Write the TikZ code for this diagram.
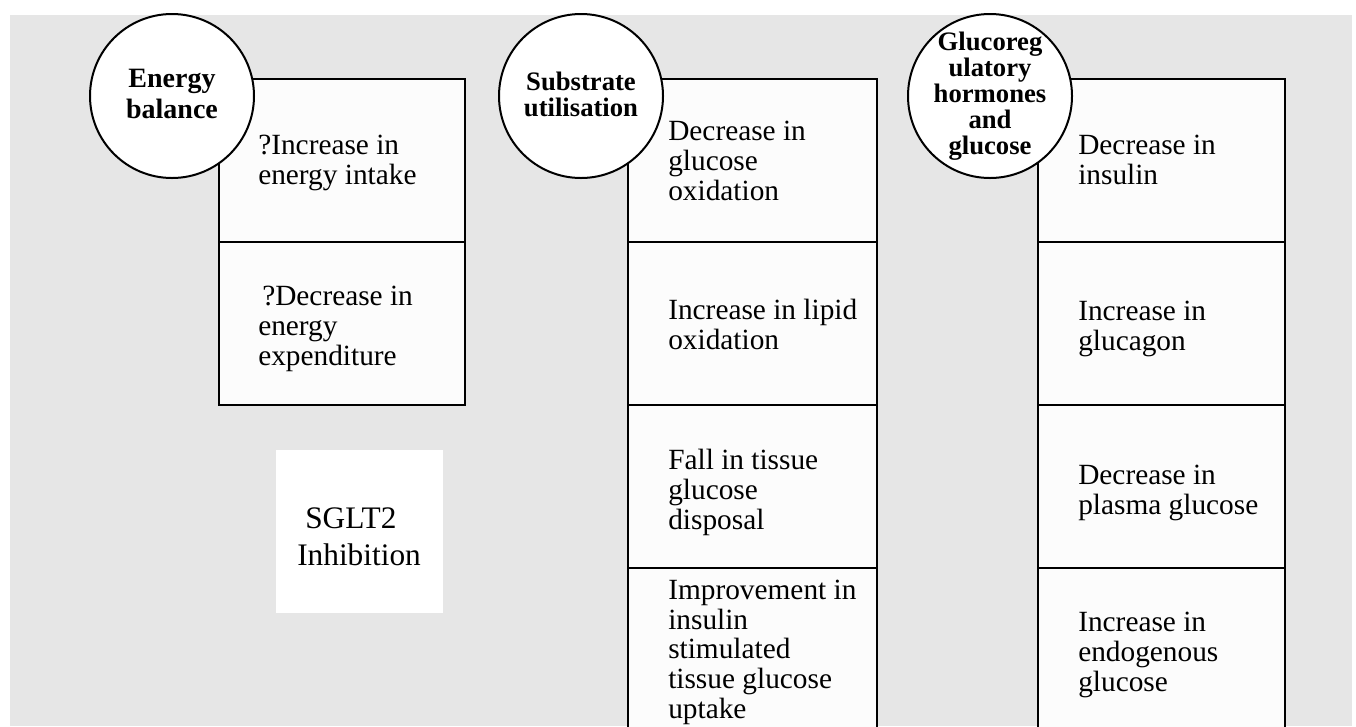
\documentclass[tikz,border=0pt]{standalone}
\usepackage{fontspec}
\setmainfont{Liberation Serif}
\usetikzlibrary{positioning}
\definecolor{PanelGrey}{RGB}{230,230,230}
\definecolor{CellWhite}{RGB}{252,252,252}
\tikzset{
  cellbox/.style={draw=black,line width=1.5pt,fill=CellWhite,
    minimum height=122.25pt,inner sep=0pt,outer sep=0pt},
  topic/.style={circle,draw=black,line width=1.5pt,fill=white,
    minimum size=123pt,inner sep=0pt},
  topiclabel/.style={align=center,inner sep=0pt,
    font=\bfseries\fontsize{20}{20}\selectfont},
  itemtext/.style={anchor=north west,align=left,inner sep=0pt,
    font=\fontsize{22}{22.3}\selectfont}
}

\begin{document}
\begin{tikzpicture}[x=0.75pt,y=-0.75pt]
  \useasboundingbox (0,0) rectangle (1356,726);
  \clip (0,0) rectangle (1356,726);
  \fill[white] (0,0) rectangle (1356,726);
  \fill[PanelGrey] (10,15) rectangle (1352,726);

  % energy balance column
  \node[cellbox,minimum width=184.5pt] (e1) at (342,160.5) {};
  \node[cellbox,minimum width=184.5pt,below=0pt of e1] (e2) {};

  % substrate utilisation column
  \node[cellbox,minimum width=186.75pt] (s1) at (752.5,160.5) {};
  \node[cellbox,minimum width=186.75pt,below=0pt of s1] (s2) {};
  \node[cellbox,minimum width=186.75pt,below=0pt of s2] (s3) {};
  \node[cellbox,minimum width=186.75pt,below=0pt of s3] (s4) {};

  % glucoregulatory column
  \node[cellbox,minimum width=185.25pt] (g1) at (1161.5,160.5) {};
  \node[cellbox,minimum width=185.25pt,below=0pt of g1] (g2) {};
  \node[cellbox,minimum width=185.25pt,below=0pt of g2] (g3) {};
  \node[cellbox,minimum width=185.25pt,below=0pt of g3] (g4) {};

  % headings
  \node[topic] (energy) at (172,96) {};
  \node[topic] (substrate) at (581,96) {};
  \node[topic] (glucoreg) at (990,96) {};
  \node[topiclabel,font=\bfseries\fontsize{21}{23}\selectfont] (energyt) at (172,94) {Energy\\balance};
  \node[topiclabel] (substratet) at (581,94.5) {Substrate\\utilisation};
  \node[topiclabel,font=\bfseries\fontsize{20}{19.6}\selectfont] (glucoregt) at (glucoreg) {Glucoreg\\ulatory\\hormones\\and\\glucose};

  % cell texts
  \node[itemtext] (e1t) at (258,135) {?Increase in\\energy intake};
  \node[itemtext] (e2t) at (258,286) {\hspace*{3pt}?Decrease in\\energy\\expenditure};
  \node[itemtext] (s1t) at (668,121) {Decrease in\\glucose\\oxidation};
  \node[itemtext] (s2t) at (668,299) {Increase in lipid\\oxidation};
  \node[itemtext] (s3t) at (668,449) {Fall in tissue\\glucose\\disposal};
  \node[itemtext,font=\fontsize{22}{22.2}\selectfont] (s4t) at (668,580) {Improvement in\\insulin\\stimulated\\tissue glucose\\uptake};
  \node[itemtext] (g1t) at (1078,135) {Decrease in\\insulin};
  \node[itemtext] (g2t) at (1078,301) {Increase in\\glucagon};
  \node[itemtext] (g3t) at (1078,465) {Decrease in\\plasma glucose};
  \node[itemtext] (g4t) at (1078,612) {Increase in\\endogenous\\glucose};

  % centre label
  \node[fill=white,minimum width=125.25pt,minimum height=122.25pt,inner sep=0pt] (sglt) at (359.5,531.5) {};
  \node[itemtext,font=\fontsize{23.5}{27.75}\selectfont] (sgltt) at (297,507) {\hspace*{6pt}SGLT2\\Inhibition};
\end{tikzpicture}
\end{document}
